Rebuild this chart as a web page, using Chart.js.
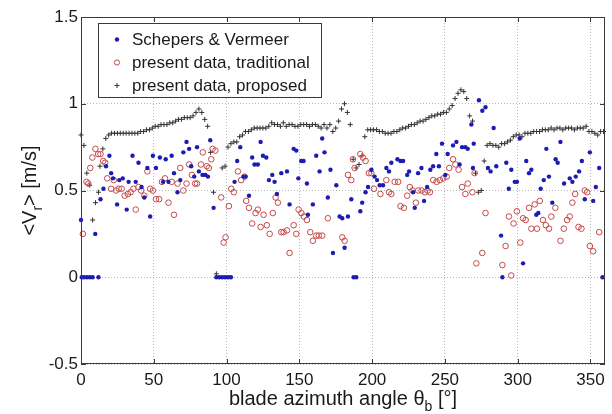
<!DOCTYPE html>
<html lang="en">
<head>
<meta charset="UTF-8">
<title>Radial velocity vs blade azimuth angle</title>
<script src="https://cdn.jsdelivr.net/npm/chart.js@4"></script>
<style>
  html, body { margin: 0; padding: 0; background: #fff; }
</style>
</head>
<body>
<canvas id="chart" width="612" height="414"></canvas>
<script>
  // axis ticks
  const xTicks = [0, 50, 100, 150, 200, 250, 300, 350];
  const yTicks = [-0.5, 0, 0.5, 1, 1.5];

  // Schepers & Vermeer (blue dots)
  const svX = [0, 0.5, 2, 4, 6, 8, 9.8, 12, 13.4, 15.4, 17.2, 19.5, 20.7, 22, 24.8, 26.3, 28.7, 31.4, 32.7, 35.4, 37.6, 39.5, 41.6, 43.5, 45.6, 47.5, 49.4, 51.5, 54.2, 56.4, 58.2, 60.1, 62.3, 63.9, 66.3, 68.2, 70.3, 72.5, 74.3, 75.7, 77.8, 79.7, 81, 83.5, 85.5, 87.2, 88.8, 91.1, 93, 95, 97, 99, 101, 103, 105.5, 107.3, 109.4, 111.7, 113, 115.4, 117.6, 119.2, 121.5, 123.4, 125, 127.3, 129.1, 131.4, 133, 134.6, 137.6, 141.5, 143.3, 146.1, 147.9, 149.3, 151.3, 152.9, 155.2, 155.9, 159.3, 161.6, 163.9, 165.7, 167.3, 169.6, 171.4, 173.1, 175.4, 177.7, 179.5, 181.1, 183.4, 185.7, 187.3, 189.1, 191.9, 193.2, 195.5, 197.2, 199.5, 201.7, 203.4, 205.2, 207.5, 209.8, 211.6, 213.2, 217.4, 219.5, 221.3, 224.1, 225.4, 228.2, 229.3, 231.6, 233.9, 235.7, 237.8, 240, 241.9, 244.1, 245.9, 248, 250.3, 251.9, 255.6, 257.9, 260.1, 261.8, 264.1, 265.7, 268.2, 269.3, 269.8, 273.4, 275.7, 277.9, 279.6, 281.4, 283.5, 285.3, 288.6, 289.5, 292.2, 293.9, 295.6, 298, 299.5, 301.4, 303.7, 305.9, 307.8, 309.4, 312.8, 314.2, 315.8, 317.9, 319.7, 321.5, 323.8, 326.1, 327.5, 329.4, 331.9, 335.8, 337.6, 339.9, 342.2, 344.1, 346.1, 349.6, 351.9, 353.7, 356, 358.3];
  const svY = [0.33, 0, 0, 0, 0, 0, 0.25, 0, 0.45, 0.51, 0.64, 0.70, 0.60, 0.57, 0.42, 0.56, 0.57, 0.39, 0.55, 0.70, 0.55, 0.66, 0.52, 0.46, 0.63, 0.35, 0.70, 0.63, 0.69, 0.55, 0.68, 0.55, 0.70, 0.60, 0.49, 0.56, 0.72, 0.78, 0.74, 0.64, 0.58, 0.75, 0.61, 0.59, 0.59, 0.58, 0.79, 0.40, 0, 0, 0, 0, 0, 0, 0.55, 0.67, 0.75, 0.58, 0.58, 0.47, 0.69, 0.65, 0.65, 0.78, 0.70, 0.69, 0.56, 0.59, 0.55, 0.48, 0.60, 0.61, 0.42, 0.74, 0.73, 0.57, 0.67, 0.67, 0.54, 0.36, 0.42, 0.70, 0.61, 0.80, 0.72, 0.46, 0.62, 0.14, 0.53, 0.35, 0.34, 0.17, 0.35, 0.45, 0, 0, 0.38, 0.43, 0.49, 0.52, 0.62, 0.58, 0.56, 0.53, 0.53, 0.63, 0.61, 0.66, 0.68, 0.67, 0.67, 0.59, 0.61, 0.49, 0.40, 0.60, 0.63, 0.44, 0.52, 0.62, 0.64, 0.71, 0.64, 0.77, 0.59, 0.71, 0.76, 0.78, 0.65, 0.75, 0.75, 0.74, 0.88, 0.63, 0.77, 1.02, 0.96, 0.98, 0.63, 0.61, 0.86, 0.64, 0.24, 0, 0.66, 0.51, 0.62, 0.55, 0.55, 0.80, 0.08, 0.67, 0.60, 0.62, 0.36, 0.37, 0.51, 0.56, 0.74, 0.58, 0.43, 0.68, 0.66, 0.78, 0.54, 0.57, 0.55, 0.58, 0.61, 0.67, 0.45, 0.72, 0.44, 0.52, 0.63, 0];

  // present data, traditional (red open circles)
  const trX = [1.3, 3.8, 5, 6.4, 7.8, 9.9, 11.8, 13.4, 15.3, 16.6, 18, 20.7, 22.5, 24.2, 26, 27.9, 30, 32.2, 34.1, 36, 37.6, 39.5, 41.3, 43.5, 45.6, 47.5, 49.4, 51.5, 53.7, 55.6, 57.7, 60.1, 62.3, 63.9, 66.3, 68.2, 70.3, 72.5, 74.3, 76.2, 78.4, 79.7, 82.4, 83.7, 86.4, 87.8, 89.5, 90.4, 92.3, 96.3, 98, 99.3, 101.6, 103.2, 105, 107.8, 110, 112.4, 113.5, 115.4, 117.6, 119.9, 121.5, 123.4, 125.4, 127.7, 129.6, 131.8, 133.7, 135.3, 137.6, 139.2, 141.5, 143.3, 146.1, 147.9, 149.5, 151.4, 153.1, 155.2, 157.5, 159.3, 161.6, 163.4, 165.7, 169.6, 179.5, 181.1, 183.4, 185.7, 186.8, 188, 191.9, 193.7, 195.5, 197.8, 199.5, 201.3, 205.7, 209.8, 211.6, 213.2, 215.5, 217.9, 219.5, 221.8, 224.1, 225.9, 227.8, 230.1, 231.7, 234, 236.3, 238.1, 239.7, 242, 244.3, 246.6, 248.9, 251.2, 253, 255.6, 257.2, 259.4, 261.8, 264.1, 265.7, 268.9, 270.4, 271.6, 275.7, 277.9, 289.5, 291.7, 294, 295.6, 297.2, 299.5, 301.8, 303.7, 305.5, 307.8, 309.4, 311.7, 313.3, 315.2, 317.4, 319.3, 321.5, 323.1, 325.9, 329.4, 331.7, 334, 335.8, 337.6, 339.5, 341.8, 343.8, 346.1, 347.7, 349.6, 351.9, 356];
  const trY = [0.25, 0.55, 0.54, 0.63, 0.69, 0.74, 0.71, 0.71, 0.67, 0.66, 0.57, 0.51, 0.56, 0.50, 0.51, 0.51, 0.47, 0.48, 0.49, 0.51, 0.39, 0.52, 0.50, 0.47, 0.61, 0.51, 0.50, 0.45, 0.45, 0.55, 0.57, 0.43, 0.55, 0.36, 0.54, 0.63, 0.50, 0.54, 0.65, 0.59, 0.54, 0.54, 0.65, 0.72, 0.64, 0.63, 0.68, 0.74, 0.73, 0.46, 0.20, 0.23, 0.41, 0.51, 0.49, 0.61, 0.56, 0.58, 0.44, 0.40, 0.31, 0.37, 0.39, 0.29, 0.36, 0.30, 0.25, 0.37, 0.46, 0.43, 0.26, 0.26, 0.27, 0.14, 0.30, 0.25, 0.39, 0.37, 0.35, 0.33, 0.26, 0.21, 0.24, 0.24, 0.24, 0.34, 0.23, 0.21, 0.59, 0.56, 0.68, 0.63, 0.71, 0.69, 0.67, 0.60, 0.60, 0.51, 0.48, 0.56, 0.49, 0.48, 0.55, 0.55, 0.41, 0.40, 0.47, 0.52, 0.50, 0.43, 0.50, 0.50, 0.49, 0.50, 0.49, 0.56, 0.55, 0.56, 0.57, 0.58, 0.63, 0.68, 0.65, 0.62, 0.52, 0.48, 0.54, 0.49, 0.60, 0.08, 0.14, 0.37, 0.07, 0.18, 0.35, 0.01, 0.31, 0.38, 0.20, 0.34, 0.33, 0.40, 0.28, 0.42, 0.28, 0.44, 0.33, 0.30, 0.28, 0.35, 0.40, 0.21, 0.28, 0.33, 0.35, 0.43, 0.48, 0.29, 0.28, 0.50, 0.49, 0.18, 0.15, 0.26];

  // present data, proposed (dark crosses)
  const prX = [0, 2, 4, 6, 8, 10, 12, 13, 15, 17, 19, 21, 23, 25, 27, 29, 31, 33, 35, 37, 39, 41, 43, 45, 47, 49, 51, 53, 55, 57, 59, 61, 63, 65, 67, 69, 71, 73, 75, 77, 79, 81, 83, 85, 87, 89, 91, 93, 97, 99, 101, 103, 105, 107, 109, 111, 113, 115, 117, 119, 121, 123, 125, 127, 129, 131, 133, 135, 137, 139, 141, 143, 145, 147, 149, 151, 153, 155, 157, 159, 161, 163, 165, 167, 169, 171, 173, 175, 177, 179, 181, 183, 185, 187, 189, 191, 193, 195, 197, 199, 201, 203, 205, 207, 209, 211, 213, 215, 217, 219, 221, 223, 225, 227, 229, 231, 233, 235, 237, 239, 241, 243, 245, 247, 249, 251, 253, 255, 257, 259, 261, 263, 265, 267, 269, 271, 273, 275, 277, 279, 281, 283, 285, 287, 289, 291, 293, 295, 297, 299, 301, 303, 305, 307, 309, 311, 313, 315, 317, 319, 321, 323, 325, 327, 329, 331, 333, 335, 337, 339, 341, 343, 345, 347, 349, 351, 353, 355, 357, 359];
  const prY = [0.82, 0.76, 0.60, 0.53, 0.33, 0.43, 0.49, 0.64, 0.74, 0.80, 0.82, 0.83, 0.83, 0.83, 0.83, 0.83, 0.83, 0.83, 0.83, 0.83, 0.83, 0.84, 0.84, 0.85, 0.85, 0.86, 0.87, 0.87, 0.88, 0.88, 0.88, 0.89, 0.89, 0.90, 0.91, 0.91, 0.92, 0.92, 0.92, 0.93, 0.95, 0.97, 0.95, 0.91, 0.87, 0.72, 0.49, 0.02, 0.63, 0.64, 0.75, 0.77, 0.78, 0.78, 0.81, 0.82, 0.84, 0.84, 0.85, 0.86, 0.86, 0.86, 0.86, 0.86, 0.87, 0.89, 0.88, 0.88, 0.87, 0.89, 0.87, 0.88, 0.88, 0.87, 0.87, 0.88, 0.88, 0.88, 0.87, 0.88, 0.88, 0.87, 0.86, 0.88, 0.86, 0.88, 0.84, 0.86, 0.90, 0.97, 1.00, 0.95, 0.88, 0.68, 0.63, 0.65, 0.70, 0.81, 0.85, 0.85, 0.85, 0.85, 0.84, 0.84, 0.83, 0.83, 0.83, 0.84, 0.84, 0.85, 0.86, 0.86, 0.87, 0.88, 0.88, 0.89, 0.90, 0.90, 0.91, 0.92, 0.93, 0.93, 0.94, 0.94, 0.95, 0.95, 0.97, 0.99, 1.03, 1.06, 1.08, 1.07, 1.03, 0.93, 0.90, 0.60, 0.49, 0.50, 0.67, 0.76, 0.77, 0.76, 0.76, 0.75, 0.77, 0.77, 0.78, 0.79, 0.81, 0.82, 0.82, 0.81, 0.83, 0.83, 0.83, 0.84, 0.84, 0.84, 0.85, 0.85, 0.85, 0.86, 0.85, 0.86, 0.86, 0.85, 0.86, 0.86, 0.86, 0.85, 0.86, 0.86, 0.86, 0.87, 0.84, 0.84, 0.83, 0.82, 0.84, 0.84];

  const toPoints = (xs, ys) => xs.map((x, i) => ({ x: x, y: ys[i] }));

  const FONT = "'Liberation Sans', Arial, Helvetica, sans-serif";
  const TXT = '#1a1a1a';
  const BLUE = '#1c1cb4';
  const RED = '#c64848';
  const DARK = '#333333';

  const series = [
    { label: 'Schepers & Vermeer', style: 'dot', color: BLUE },
    { label: 'present data, traditional', style: 'ring', color: RED },
    { label: 'present data, proposed', style: 'plus', color: DARK }
  ];

  function marker(ctx, style, color, x, y) {
    ctx.save();
    ctx.strokeStyle = color;
    ctx.fillStyle = color;
    ctx.lineWidth = 1;
    ctx.beginPath();
    if (style === 'dot') {
      ctx.arc(x, y, 2.2, 0, Math.PI * 2);
      ctx.fill();
    } else if (style === 'ring') {
      ctx.arc(x, y, 2.6, 0, Math.PI * 2);
      ctx.stroke();
    } else {
      ctx.moveTo(x - 2.5, y); ctx.lineTo(x + 2.5, y);
      ctx.moveTo(x, y - 2.5); ctx.lineTo(x, y + 2.5);
      ctx.stroke();
    }
    ctx.restore();
  }

  // text with a subscript part, centred on (0,0) of current transform
  function subText(ctx, parts, size) {
    const subSize = Math.round(size * 0.72);
    let total = 0;
    parts.forEach(p => {
      ctx.font = (p.sub ? subSize : size) + 'px ' + FONT;
      p.w = ctx.measureText(p.t).width;
      total += p.w;
    });
    let x = -total / 2;
    parts.forEach(p => {
      ctx.font = (p.sub ? subSize : size) + 'px ' + FONT;
      ctx.fillText(p.t, x, p.sub ? size * 0.3 : 0);
      x += p.w;
    });
  }

  const matlabFrame = {
    id: 'matlabFrame',
    afterDraw(chart) {
      const ctx = chart.ctx;
      const a = chart.chartArea;
      const xs = chart.scales.x, ys = chart.scales.y;
      ctx.save();
      // box
      ctx.strokeStyle = '#3a3a3a';
      ctx.lineWidth = 1;
      ctx.strokeRect(a.left + 0.5, a.top + 0.5, a.right - a.left - 1, a.bottom - a.top - 1);
      // inner ticks
      ctx.beginPath();
      xTicks.forEach(v => {
        const px = Math.round(xs.getPixelForValue(v)) + 0.5;
        ctx.moveTo(px, a.bottom); ctx.lineTo(px, a.bottom - 5);
        ctx.moveTo(px, a.top); ctx.lineTo(px, a.top + 5);
      });
      yTicks.forEach(v => {
        const py = Math.round(ys.getPixelForValue(v)) + 0.5;
        ctx.moveTo(a.left, py); ctx.lineTo(a.left + 5, py);
        ctx.moveTo(a.right, py); ctx.lineTo(a.right - 5, py);
      });
      ctx.stroke();

      // legend
      const lx = 98, ly = 23, lw = 223, lh = 74;
      ctx.fillStyle = '#fff';
      ctx.fillRect(lx, ly, lw, lh);
      ctx.strokeStyle = '#3a3a3a';
      ctx.strokeRect(lx + 0.5, ly + 0.5, lw, lh);
      ctx.textBaseline = 'middle';
      ctx.textAlign = 'left';
      ctx.font = '17px ' + FONT;
      series.forEach((s, i) => {
        const cy = 39.5 + i * 23;
        marker(ctx, s.style, s.color, 117, cy);
        ctx.fillStyle = TXT;
        ctx.fillText(s.label, 132, cy + 1);
      });

      // axis titles
      ctx.fillStyle = TXT;
      ctx.textBaseline = 'alphabetic';
      ctx.save();
      ctx.translate((a.left + a.right) / 2, 405);
      subText(ctx, [{ t: 'blade azimuth angle \u03b8' }, { t: 'b', sub: true }, { t: ' [\u00b0]' }], 20);
      ctx.restore();
      ctx.save();
      ctx.translate(36, (a.top + a.bottom) / 2);
      ctx.rotate(-Math.PI / 2);
      subText(ctx, [{ t: '<V' }, { t: 'r', sub: true }, { t: '> [m/s]' }], 20);
      ctx.restore();
      ctx.restore();
    }
  };

  const pickTicks = list => scale => { scale.ticks = list.map(v => ({ value: v })); };

  new Chart(document.getElementById('chart'), {
    type: 'scatter',
    data: {
      datasets: [
        {
          label: series[0].label,
          data: toPoints(svX, svY),
          pointStyle: 'circle',
          pointRadius: 2.2,
          backgroundColor: BLUE,
          borderColor: BLUE,
          borderWidth: 0,
          clip: false
        },
        {
          label: series[1].label,
          data: toPoints(trX, trY),
          pointStyle: 'circle',
          pointRadius: 2.8,
          backgroundColor: 'rgba(0,0,0,0)',
          borderColor: RED,
          borderWidth: 1,
          clip: false
        },
        {
          label: series[2].label,
          data: toPoints(prX, prY),
          pointStyle: 'cross',
          pointRadius: 2.5,
          borderColor: DARK,
          borderWidth: 1,
          clip: false
        }
      ]
    },
    options: {
      responsive: false,
      animation: false,
      layout: { padding: { left: 0, right: 7, top: 17, bottom: 0 } },
      plugins: {
        legend: { display: false },
        tooltip: { enabled: false }
      },
      scales: {
        x: {
          type: 'linear',
          min: 0,
          max: 360,
          afterBuildTicks: pickTicks(xTicks),
          afterFit: s => { s.height = 50; },
          border: { display: false, dash: [1, 2] },
          grid: { color: '#b8b8b8', drawTicks: false },
          ticks: { color: TXT, padding: 6, font: { family: FONT, size: 17 }, maxRotation: 0, callback: v => String(v) }
        },
        y: {
          type: 'linear',
          min: -0.5,
          max: 1.5,
          afterBuildTicks: pickTicks(yTicks),
          afterFit: s => { s.width = 81; },
          border: { display: false, dash: [1, 2] },
          grid: { color: '#b8b8b8', drawTicks: false },
          ticks: { color: TXT, padding: 3, font: { family: FONT, size: 17 }, callback: v => String(v) }
        }
      }
    },
    plugins: [matlabFrame]
  });
</script>
</body>
</html>
